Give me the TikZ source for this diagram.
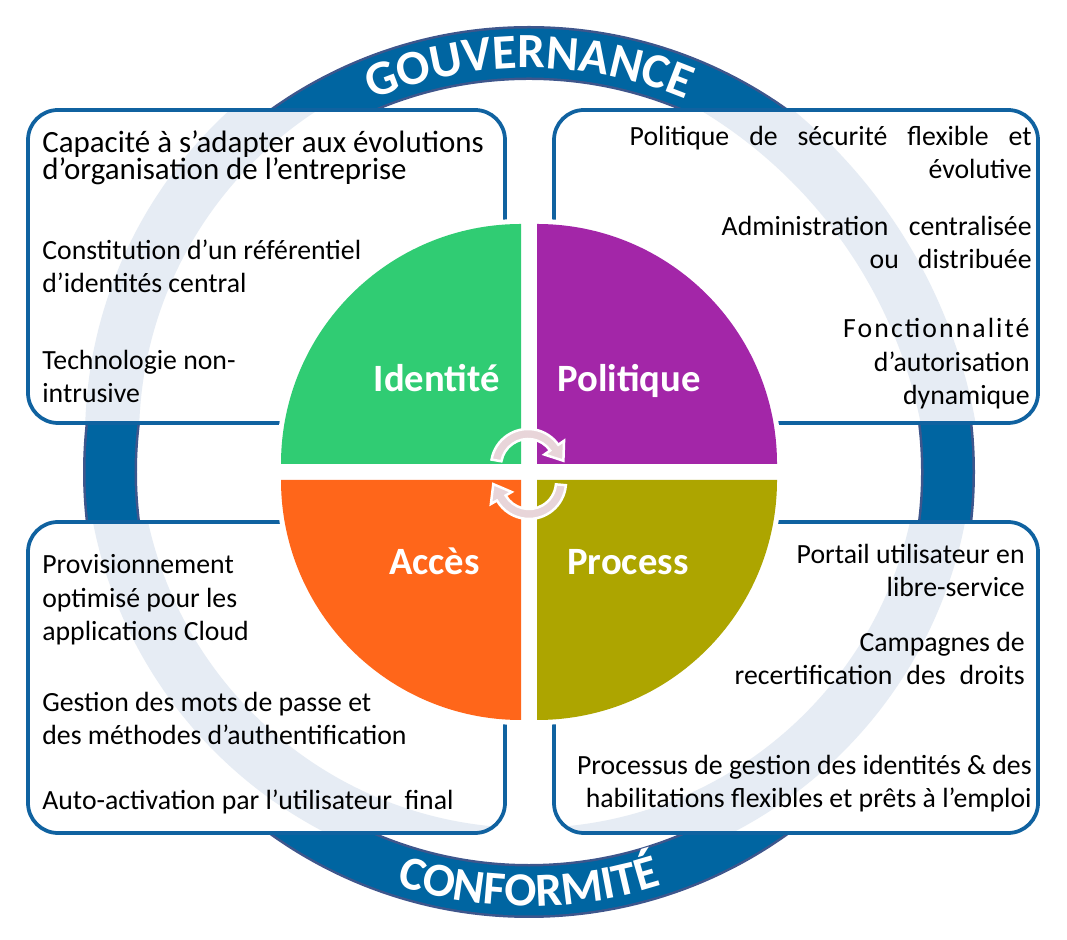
\documentclass[tikz,border=0pt]{standalone}
\usepackage{fontspec}
\setmainfont{Carlito}
\usetikzlibrary{calc,decorations.text}

\definecolor{ringblue}{RGB}{0,101,161}
\definecolor{ringedge}{RGB}{62,86,140}
\definecolor{ringlight}{RGB}{230,236,244}
\definecolor{boxblue}{RGB}{16,98,160}
\definecolor{qgreen}{RGB}{48,204,115}
\definecolor{qpurple}{RGB}{163,38,168}
\definecolor{qorange}{RGB}{255,102,26}
\definecolor{qolive}{RGB}{173,165,0}
\definecolor{cyclepink}{RGB}{232,213,217}

\newcommand{\ringfont}{\fontsize{28}{30}\selectfont\bfseries}
\newcommand{\lowringfont}{\fontsize{27}{29}\selectfont\bfseries}

\begin{document}
\begin{tikzpicture}[x=0.02cm, y=0.02cm,
  boxline/.style={draw=boxblue, line width=0.075cm, rounded corners=0.6cm},
  quarter/.style={preaction={draw=white, line width=0.2cm}},
  boxtext/.style={inner sep=0, font=\fontsize{15.8}{19.3}\selectfont},
  bigtext/.style={inner sep=0, font=\fontsize{17.6}{15.9}\selectfont},
  qlabel/.style={inner sep=0, text=white, font=\fontsize{22}{24}\selectfont\bfseries},
  cycarrow/.style={fill=cyclepink, draw=white, line width=0.05cm}]
\useasboundingbox (0,0) rectangle (1067,939);

\coordinate (C) at (529,467);
\coordinate (L) at (529,501);
\coordinate (O1) at (528,473);
\coordinate (O2) at (529,457);

\draw[ringedge, line width=1.08cm] (C) circle[radius=419];
\draw[ringblue, line width=0.98cm] (C) circle[radius=419];
\path[decorate, decoration={text along path, text align=center, text color=white,
  text={|\ringfont|GOUVERNANCE}}] ($(C)+(130:404)$) arc[start angle=130, end angle=50, radius=404];
\path[decorate, decoration={text along path, text align=center, text color=white,
  text={|\lowringfont|CONFORMIT{É}}}] ($(C)+(235:434)$) arc[start angle=235, end angle=305, radius=434];

\fill[white, rounded corners=0.6cm] (28,516) rectangle (505,829) (554,516) rectangle (1038,829)
  (28,106) rectangle (505,417) (554,106) rectangle (1038,417);
\begin{scope}
  \clip[rounded corners=0.6cm] (28,516) rectangle (505,829) (554,516) rectangle (1038,829)
    (28,106) rectangle (505,417) (554,106) rectangle (1038,417);
  \draw[ringlight, line width=1.08cm] ($(L)+(0:417)$) arc[start angle=0, end angle=-270, radius=417]
    arc[start angle=81.7, end angle=10.4, radius=500] -- cycle;
\end{scope}
\draw[boxline] (28,516) rectangle (505,829) (554,516) rectangle (1038,829)
  (28,106) rectangle (505,417) (554,106) rectangle (1038,417);

\path[quarter, fill=qgreen] (521,475) -- ++(-240,0) arc[start angle=180, end angle=90, radius=240] -- cycle;
\path[quarter, fill=qpurple] (537,475) -- ++(0,240) arc[start angle=90, end angle=0, radius=240] -- cycle;
\path[quarter, fill=qorange] (521,459) -- ++(0,-240) arc[start angle=270, end angle=180, radius=240] -- cycle;
\path[quarter, fill=qolive] (537,459) -- ++(240,0) arc[start angle=0, end angle=-90, radius=240] -- cycle;

\node[qlabel, anchor=base east] (identite) at (500,547) {Identité};
\node[qlabel, anchor=base west] (politique) at (557,547) {Politique};
\node[qlabel, anchor=base east] (acces) at (480,364) {Accès};
\node[qlabel, anchor=base west] (process) at (567,364) {Process};

\node[bigtext, anchor=base west, align=left] (adapt) at (42,759)
  {Capacité à s’adapter aux évolutions\\d’organisation de l’entreprise};
\node[boxtext, anchor=base west, align=left] (refid) at (42,646)
  {Constitution d’un référentiel\\d’identités central};
\node[boxtext, anchor=base west, align=left] (techno) at (42,536)
  {Technologie non-\\intrusive};

\node[boxtext, anchor=base east, align=right] (secpol) at (1032,760)
  {\makebox[8.04cm][s]{Politique de sécurité flexible et}\\évolutive};
\node[boxtext, anchor=base east, align=right] (admin) at (1032,670)
  {\makebox[6.2cm][s]{Administration centralisée}\\\makebox[3.24cm][s]{ou distribuée}};
\node[boxtext, anchor=base east, align=right] (authz) at (1030,534)
  {{\addfontfeature{LetterSpace=7.5}Fonctionnalité}\\d’autorisation\\dynamique};

\node[boxtext, anchor=base west, align=left] (provis) at (42,298)
  {Provisionnement\\optimisé pour les\\applications Cloud};
\node[boxtext, anchor=base west, align=left] (pwd) at (42,194)
  {Gestion des mots de passe et\\des méthodes d’authentification};
\node[boxtext, anchor=base west] (selfact) at (42,129)
  {Auto-activation par l’utilisateur\ \ final};

\node[boxtext, anchor=base east, align=right] (portal) at (1025,342)
  {\makebox[4.56cm][s]{Portail utilisateur en}\\libre-service};
\node[boxtext, anchor=base east, align=right] (recert) at (1025,254)
  {Campagnes de\\\makebox[5.8cm][s]{recertification des droits}};
\node[boxtext, anchor=base east, align=right] (iamproc) at (1032,131)
  {Processus de gestion des identités \& des\\habilitations flexibles et prêts à l’emploi};

\filldraw[cycarrow] ($(O1)+(170:37)$) arc[start angle=170, end angle=35, radius=37]
  -- ($(O1)+(35:44)$) -- ($(O1)+(35:32)+(-55:16)$) -- ($(O1)+(35:20)$)
  -- ($(O1)+(35:27)$) arc[start angle=35, end angle=170, radius=27] -- cycle;
\filldraw[cycarrow] ($(O2)+(-5:37)$) arc[start angle=-5, end angle=-150, radius=37]
  -- ($(O2)+(-150:44)$) -- ($(O2)+(-150:32)+(120:16)$) -- ($(O2)+(-150:20)$)
  -- ($(O2)+(-150:27)$) arc[start angle=-150, end angle=-5, radius=27] -- cycle;
\end{tikzpicture}
\end{document}
